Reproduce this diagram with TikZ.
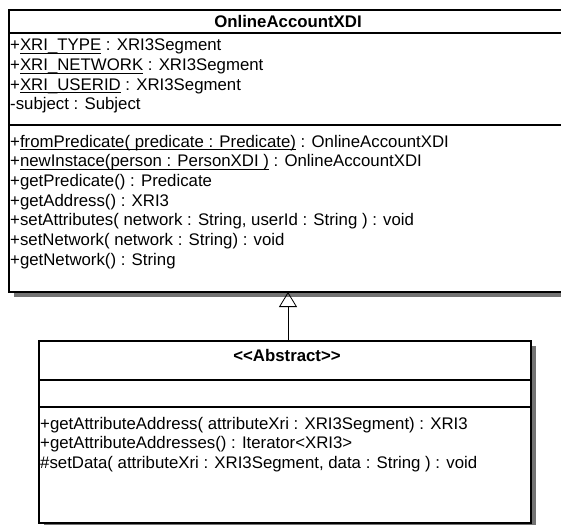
\documentclass[tikz,border=0pt]{standalone}
\usepackage{fontspec}
\setmainfont{Liberation Sans}
\usetikzlibrary{arrows.meta,positioning}

% static members: underline at the depth of the underscore
\newcommand\staticul[1]{\setbox0\hbox{#1}\rlap{\rule[-2.9pt]{\wd0}{0.9pt}}\box0\relax}

\begin{document}
\begin{tikzpicture}[x=1pt, y=-1pt,
    classbox/.style={draw, line width=1.6pt, fill=white, inner sep=0pt, anchor=north west},
    shadowbox/.style={fill=black!55, draw=none, inner sep=0pt, anchor=north west},
    member/.style={anchor=base west, inner sep=0pt, font=\fontsize{16.8}{18}\selectfont},
    classname/.style={anchor=base, inner sep=0pt, font=\bfseries\fontsize{16.8}{18}\selectfont},
    sepline/.style={line width=1.6pt},
    inherit/.style={-{Triangle[open, length=15pt, width=18pt]}, line width=0.8pt}
  ]
  \useasboundingbox (0,0) rectangle (561,524);
  \begin{scope}
    \clip (0,0) rectangle (561,524);

    % OnlineAccountXDI
    \node[shadowbox, minimum width=562pt, minimum height=282pt] (onlineshadow) at (14,15) {};
    \node[classbox, minimum width=562pt, minimum height=282pt] (online) at (8,9) {};
    \draw[sepline] (8,33) -- (570,33);
    \draw[sepline] (8,125) -- (570,125);
    \node[classname] (onlinename) at (288,28) {OnlineAccountXDI};

    \node[member] (atype) at (10,51) {+\staticul{XRI\_TYPE} : XRI3Segment};
    \node[member] (anetwork) at (10,70.7) {+\staticul{XRI\_NETWORK} : XRI3Segment};
    \node[member] (auserid) at (10,90.4) {+\staticul{XRI\_USERID} : XRI3Segment};
    \node[member] (asubject) at (10,110) {-subject : Subject};

    \node[member] (mfrom) at (10,147) {+\staticul{fromPredicate( predicate : Predicate)} : OnlineAccountXDI};
    \node[member] (mnew) at (10,166.7) {+\staticul{newInstace(person : PersonXDI )} : OnlineAccountXDI};
    \node[member] (mgetpred) at (10,186.4) {+getPredicate() : Predicate};
    \node[member] (mgetaddr) at (10,206.1) {+getAddress() : XRI3};
    \node[member] (msetattr) at (10,225.8) {+setAttributes( network : String, userId : String ) : void};
    \node[member] (msetnet) at (10,245.5) {+setNetwork( network : String) : void};
    \node[member] (mgetnet) at (10,265.2) {+getNetwork() : String};

    % <<Abstract>>
    \node[shadowbox, minimum width=492pt, minimum height=190pt] (absshadow) at (44,346) {};
    \node[classbox, minimum width=492pt, minimum height=182pt] (abs) at (38,340) {};
    \draw[sepline] (38,380) -- (530,380);
    \draw[sepline] (38,407) -- (530,407);
    \node[classname] (absname) at (287,361) {<\kern0pt<Abstract>\kern0pt>};

    \node[member] (mattraddr) at (40,429) {+getAttributeAddress( attributeXri : XRI3Segment) : XRI3};
    \node[member] (mattraddrs) at (40,448.7) {+getAttributeAddresses() : Iterator<XRI3>};
    \node[member] (msetdata) at (40,468.4) {\#setData( attributeXri : XRI3Segment, data : String ) : void};

    % generalization
    \coordinate (genfrom) at (288,340);
    \coordinate (gento) at (288,292);
    \draw[inherit] (genfrom) -- (gento);
  \end{scope}
\end{tikzpicture}
\end{document}
